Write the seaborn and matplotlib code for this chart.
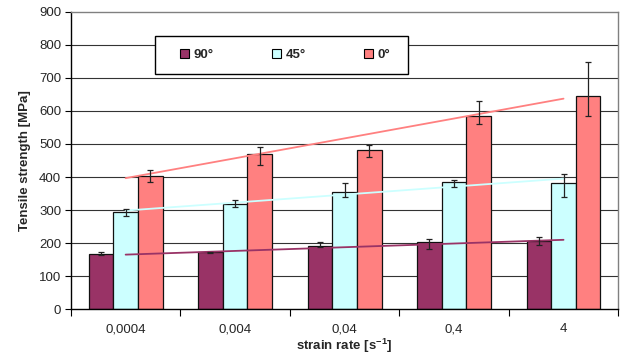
import numpy as np
import pandas as pd
import matplotlib
matplotlib.use("Agg")
import matplotlib.pyplot as plt
from matplotlib.patches import Patch, Rectangle
import seaborn as sns

# strain rates (x categories)
rates = ["0,0004", "0,004", "0,04", "0,4", "4"]
orientations = ["90°", "45°", "0°"]

# tensile strength [MPa]
s90 = [166, 172, 191, 202, 207]
s45 = [295, 318, 354, 384, 383]
s0 = [403, 469, 482, 584, 646]

# error bars (upper / lower extent) [MPa]
up90 = [7, 2, 12, 10, 10]
lo90 = [3, 2, 4, 19, 12]
up45 = [7, 13, 27, 8, 27]
lo45 = [12, 9, 15, 14, 43]
up0 = [19, 21, 15, 45, 101]
lo0 = [18, 34, 21, 25, 62]

colors = {"90°": "#993366", "45°": "#CCFFFF", "0°": "#FF8080"}

values = {"90°": s90, "45°": s45, "0°": s0}
errors = {"90°": (lo90, up90), "45°": (lo45, up45), "0°": (lo0, up0)}

rows = []
for o in orientations:
    for r, v in zip(rates, values[o]):
        rows.append({"rate": r, "orientation": o, "strength": v})
df = pd.DataFrame(rows)

sns.set_style("white")
plt.rcParams["font.family"] = ["Liberation Sans", "DejaVu Sans"]

fig = plt.figure(figsize=(6.22, 3.6), dpi=100)
ax = fig.add_axes([0.114, 0.141, 0.88, 0.8265])

# horizontal grid behind bars
for yv in range(100, 900, 100):
    ax.axhline(yv, color="#333333", lw=0.8, zorder=0)

sns.barplot(data=df, x="rate", y="strength", hue="orientation",
            hue_order=orientations, order=rates, palette=colors,
            saturation=1, width=0.675, errorbar=None, edgecolor="#111111",
            linewidth=0.9, legend=False, ax=ax, zorder=2)

# error bars at bar centres
for o, cont in zip(orientations, ax.containers):
    xs = [p.get_x() + p.get_width() / 2 for p in cont.patches]
    ax.errorbar(xs, values[o], yerr=errors[o], fmt="none", ecolor="#222222",
                elinewidth=0.9, capsize=2.5, capthick=0.9, zorder=4)

# linear trend lines over category index
idx = np.arange(len(rates))
for o in orientations:
    k, b = np.polyfit(idx, values[o], 1)
    ax.plot(idx, k * idx + b, color=colors[o], lw=1.3, zorder=3)

ax.set_xlim(-0.5, len(rates) - 0.5)
ax.set_ylim(0, 900)
ax.set_yticks(range(0, 1000, 100))

# category separators as ticks, labels centred
ax.set_xticks(np.arange(-0.5, len(rates), 1.0))
ax.set_xticklabels([])
ax.set_xticks(idx, minor=True)
ax.set_xticklabels(rates, minor=True)
ax.tick_params(axis="x", which="major", direction="out", length=5, width=0.8,
               color="black", bottom=True)
ax.tick_params(axis="x", which="minor", length=0, pad=10, labelsize=9.5)
ax.tick_params(axis="y", direction="out", length=4, width=0.8, color="black",
               left=True, labelsize=9.5, pad=3)

for side in ["left", "bottom"]:
    ax.spines[side].set_color("black")
    ax.spines[side].set_linewidth(1.0)
for side in ["top", "right"]:
    ax.spines[side].set_color("#808080")
    ax.spines[side].set_linewidth(1.0)

ax.set_xlabel("strain rate [s$^{\\mathregular{-1}}$]", fontweight="bold",
              fontsize=9.5, labelpad=1)
ax.set_ylabel("Tensile strength [MPa]", fontweight="bold", fontsize=9.5,
              labelpad=6)

# legend box drawn separately so the entries can sit well inside it
ax.add_patch(Rectangle((0.154, 0.79), 0.461, 0.129, transform=ax.transAxes,
                       facecolor="white", edgecolor="black", lw=1.0,
                       zorder=5, clip_on=False))
handles = [Patch(facecolor=colors[o], edgecolor="black", linewidth=0.8)
           for o in orientations]
leg = ax.legend(handles, orientations, ncol=3, loc="center",
                bbox_to_anchor=(0.199, 0.79, 0.385, 0.129), mode="expand",
                frameon=False, borderaxespad=0, borderpad=0,
                handlelength=0.7, handleheight=0.7, handletextpad=0.35,
                prop={"weight": "bold", "size": 9.5})
leg.set_zorder(6)

fig.savefig("out.png", dpi=100)
